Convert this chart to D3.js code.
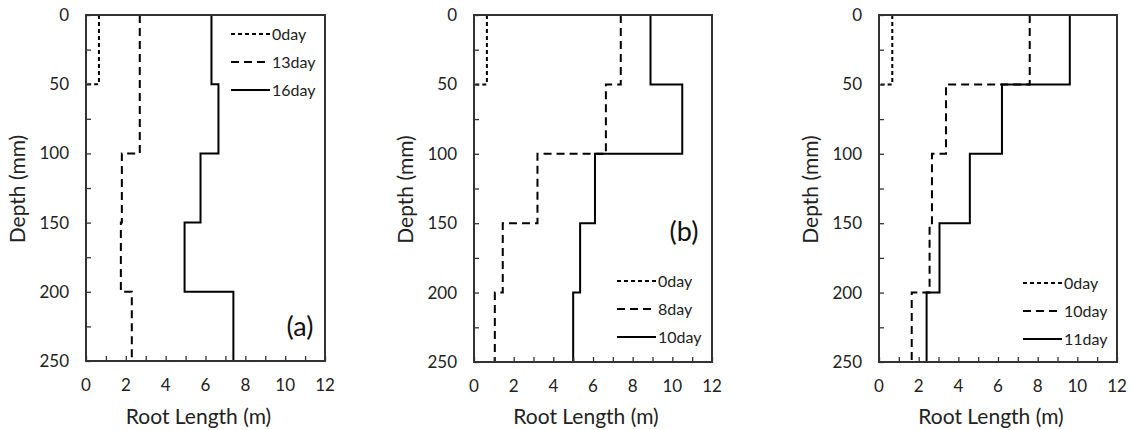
<!DOCTYPE html>
<html>
<head>
<meta charset="utf-8">
<script src="https://cdn.jsdelivr.net/npm/d3@7"></script>
<style>
  html, body { margin: 0; padding: 0; background: #fff; }
  svg { display: block; font-family: Lato, "Open Sans", sans-serif; }
</style>
</head>
<body>
<svg id="chart" width="1133" height="430"></svg>
<script>
// Soil layers (mm): each value holds for one 50 mm layer
const depthBreaks = [0, 50, 100, 150, 200, 250];
const xTicks = [0, 2, 4, 6, 8, 10, 12];
const yTicks = [0, 50, 100, 150, 200, 250];

// Panel (a)
const seriesNamesA = ["0day", "13day", "16day"];
const a0day  = [0.65, 0, 0, 0, 0];
const a13day = [2.7, 2.7, 1.8, 1.75, 2.3];
const a16day = [6.3, 6.65, 5.75, 4.95, 7.4];

// Panel (b)
const seriesNamesB = ["0day", "8day", "10day"];
const b0day  = [0.65, 0, 0, 0, 0];
const b8day  = [7.4, 6.65, 3.2, 1.45, 1.05];
const b10day = [8.9, 10.5, 6.1, 5.35, 5.0];

// Panel (c)
const seriesNamesC = ["0day", "10day", "11day"];
const c0day  = [0.67, 0, 0, 0, 0];
const c10day = [7.6, 3.38, 2.67, 2.55, 1.65];
const c11day = [9.62, 6.2, 4.58, 3.05, 2.4];

const dashStyles = ["4,3", "8,5", null];

const panels = [
  { box: [86, 325, 15, 361], names: seriesNamesA, series: [a0day, a13day, a16day],
    label: "(a)", labelPos: [300, 327], legend: [231, 270, 34] },
  { box: [474, 712, 15, 362], names: seriesNamesB, series: [b0day, b8day, b10day],
    label: "(b)", labelPos: [684, 232], legend: [617, 656, 281] },
  { box: [879, 1117, 15, 362], names: seriesNamesC, series: [c0day, c10day, c11day],
    label: null, legend: [1023, 1062, 283] }
];

const svg = d3.select("#chart");

panels.forEach(p => {
  const [x0, x1, y0, y1] = p.box;
  const x = d3.scaleLinear().domain([0, 12]).range([x0, x1]);
  const y = d3.scaleLinear().domain([0, 250]).range([y0, y1]);
  const g = svg.append("g");

  // step profile: vertical within a layer, horizontal at each layer break
  const line = d3.line().x(d => x(d[0])).y(d => y(d[1]));
  p.series.forEach((vals, i) => {
    const pts = [];
    vals.forEach((v, k) => { pts.push([v, depthBreaks[k]]); pts.push([v, depthBreaks[k + 1]]); });
    g.append("path")
      .attr("d", line(pts))
      .attr("fill", "none")
      .attr("stroke", "#000")
      .attr("stroke-width", 2)
      .attr("stroke-dasharray", dashStyles[i]);
  });

  // frame (drawn over the profiles so zero-length runs sit under the axis)
  g.append("rect")
    .attr("x", x0).attr("y", y0)
    .attr("width", x1 - x0).attr("height", y1 - y0)
    .attr("fill", "none").attr("stroke", "#333").attr("stroke-width", 2);

  // x axis: inward minor ticks every 1 m, labels every 2 m
  const xAxis = d3.axisBottom(x).tickValues(d3.range(0, 13, 1)).tickSize(-5).tickFormat("");
  const gx = g.append("g").attr("transform", `translate(0,${y1})`).call(xAxis);
  gx.select(".domain").remove();
  gx.selectAll(".tick line").attr("stroke", "#333").attr("stroke-width", 1.3);
  g.append("g").selectAll("text").data(xTicks).join("text")
    .attr("x", d => x(d)).attr("y", y1 + 30)
    .attr("text-anchor", "middle").attr("font-size", 17).attr("fill", "#222")
    .text(d => d);

  // y axis: inward ticks every 25 mm, labels every 50 mm
  const yAxis = d3.axisLeft(y).tickValues(d3.range(0, 251, 25)).tickSize(-5).tickFormat("");
  const gy = g.append("g").attr("transform", `translate(${x0},0)`).call(yAxis);
  gy.select(".domain").remove();
  gy.selectAll(".tick line").attr("stroke", "#333").attr("stroke-width", 1.3);
  g.append("g").selectAll("text").data(yTicks).join("text")
    .attr("x", x0 - 17).attr("y", d => y(d)).attr("dy", "0.35em")
    .attr("text-anchor", "end").attr("font-size", 17).attr("fill", "#222")
    .text(d => d);

  // axis titles
  g.append("text")
    .attr("x", (x0 + x1) / 2 - 7).attr("y", 424)
    .attr("text-anchor", "middle").attr("font-size", 21).attr("fill", "#222")
    .text("Root Length (m)");
  g.append("text")
    .attr("transform", `translate(${x0 - 61},${(y0 + y1) / 2 + 1}) rotate(-90)`)
    .attr("text-anchor", "middle").attr("font-size", 21).attr("fill", "#222")
    .text("Depth (mm)");

  // panel label
  if (p.label) {
    g.append("text")
      .attr("x", p.labelPos[0]).attr("y", p.labelPos[1]).attr("dy", "0.35em")
      .attr("text-anchor", "middle").attr("font-size", 27).attr("fill", "#111")
      .text(p.label);
  }

  // legend
  const [lx0, lx1, ly0] = p.legend;
  const leg = g.append("g").selectAll("g").data(p.names).join("g")
    .attr("transform", (d, i) => `translate(0,${ly0 + i * 28})`);
  leg.append("line")
    .attr("x1", lx0).attr("x2", lx1).attr("y1", 0).attr("y2", 0)
    .attr("stroke", "#000").attr("stroke-width", 2)
    .attr("stroke-dasharray", (d, i) => dashStyles[i]);
  leg.append("text")
    .attr("x", lx1 + 2).attr("y", 0).attr("dy", "0.35em")
    .attr("font-size", 16).attr("fill", "#222")
    .text(d => d);
});
</script>
</body>
</html>
